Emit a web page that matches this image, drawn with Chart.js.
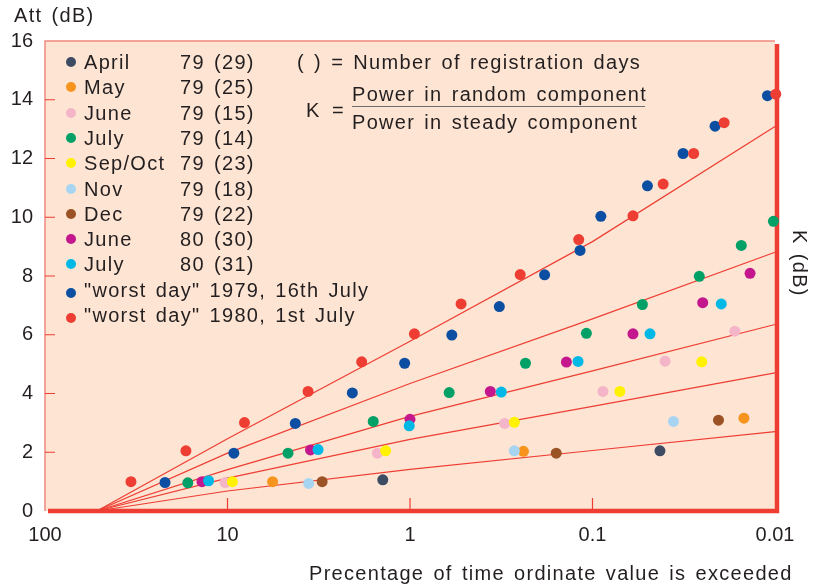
<!DOCTYPE html>
<html>
<head>
<meta charset="utf-8">
<script src="https://cdn.jsdelivr.net/npm/chart.js@4"></script>
<style>
  body { margin: 0; background: #fff; }
  #wrap { position: relative; width: 822px; height: 585px; }
  #wrap canvas { position: absolute; left: 0; top: 0; }
  .txt {
    position: absolute; white-space: nowrap;
    font-family: "Liberation Sans", Arial, Helvetica, sans-serif;
    font-size: 20px; letter-spacing: 1.3px; word-spacing: 2.3px; color: #231f20;
    line-height: 20px; height: 20px;
  }
  .dot { position: absolute; width: 10px; height: 10px; border-radius: 50%; }
</style>
</head>
<body>
<div id="wrap">
  <canvas id="chart" width="822" height="585"></canvas>
  <div class="txt" style="left:14px; top:5px;">Att (dB)</div>
  <div class="txt" style="left:297px; top:52px;">( ) = Number of registration days</div>
  <div class="txt" style="left:306px; top:100px;">K</div>
  <div class="txt" style="left:332px; top:100px;">=</div>
  <div class="txt" style="left:352px; top:84px;">Power in random component</div>
  <div style="position:absolute; left:352px; top:106px; width:293px; height:0; border-top:1.5px solid #6d6e71;"></div>
  <div class="txt" style="left:352px; top:112px;">Power in steady component</div>
  <div class="txt" style="left:770px; top:250px; width:60px; text-align:center; transform:rotate(90deg);">K (dB)</div>
  <div class="txt" style="left:309px; top:563px;">Precentage of time ordinate value is exceeded</div>
  <div id="legend"></div>
</div>
<script>
const xTickValues = [100, 10, 1, 0.1, 0.01];
const xTickLabels = ['100', '10', '1', '0.1', '0.01'];
const yTickValues = [0, 2, 4, 6, 8, 10, 12, 14, 16];

const seriesNames = ['April', 'May', 'June', 'July', 'Sep/Oct', 'Nov', 'Dec', 'June', 'July',
    '"worst day" 1979, 16th July', '"worst day" 1980, 1st July'];
const seriesYears = ['79', '79', '79', '79', '79', '79', '79', '80', '80', '', ''];
const seriesDays = ['(29)', '(25)', '(15)', '(14)', '(23)', '(18)', '(22)', '(30)', '(31)', '', ''];
const seriesColors = ['#3d4c63', '#f7941e', '#f5b5c9', '#00a066', '#fff200', '#a7d5f1',
    '#9b5325', '#c4168d', '#00b8e6', '#0b4ea2', '#ee3e33'];

// [percentage of time, attenuation dB]
const april79 = [[1.41, 1.06], [0.0427, 2.05]];
const may79 = [[5.66, 1.0], [0.239, 2.03], [0.0148, 3.16]];
const june79 = [[10.3, 0.97], [1.51, 1.97], [0.303, 2.98], [0.0877, 4.07], [0.040, 5.1], [0.0166, 6.12]];
const july79 = [[16.5, 0.96], [4.66, 1.97], [1.59, 3.05], [0.61, 4.03], [0.233, 5.03], [0.108, 6.05],
    [0.0533, 7.03], [0.026, 7.99], [0.0153, 9.04], [0.0102, 9.86]];
const sepOct79 = [[9.4, 1.0], [1.36, 2.05], [0.268, 3.02], [0.0708, 4.07], [0.0252, 5.08]];
const nov79 = [[3.59, 0.94], [0.268, 2.05], [0.036, 3.05]];
const dec79 = [[3.03, 1.0], [0.158, 1.97], [0.0204, 3.09]];
const june80 = [[13.8, 1.0], [3.51, 2.08], [1.0, 3.12], [0.363, 4.07], [0.139, 5.07], [0.060, 6.03],
    [0.0249, 7.09], [0.0137, 8.09]];
const july80 = [[12.7, 1.03], [3.19, 2.09], [1.01, 2.9], [0.316, 4.05], [0.12, 5.09], [0.0484, 6.03],
    [0.0197, 7.05]];
const worst1979 = [[22, 0.97], [9.23, 1.97], [4.25, 2.98], [2.07, 4.02], [1.07, 5.03], [0.59, 5.99],
    [0.324, 6.96], [0.183, 8.04], [0.117, 8.87], [0.090, 10.03], [0.050, 11.07], [0.0319, 12.17],
    [0.0213, 13.1], [0.011, 14.14]];
const worst1980 = [[33.8, 1.0], [16.9, 2.05], [8.07, 3.01], [3.62, 4.07], [1.84, 5.08], [0.946, 6.03],
    [0.525, 7.05], [0.249, 8.05], [0.119, 9.24], [0.060, 10.05], [0.041, 11.13], [0.0279, 12.17],
    [0.019, 13.22], [0.0099, 14.19]];

const seriesPoints = [april79, may79, june79, july79, sepOct79, nov79, dec79, june80, july80, worst1979, worst1980];

// fitted K lines, all starting from the same origin on the x axis
const fitX = [52, 10, 1, 0.1, 0.01];
const fitK1 = [0, 2.46, 5.78, 9.17, 13.09];
const fitK2 = [0, 1.97, 4.34, 6.54, 8.81];
const fitK3 = [0, 1.41, 3.22, 4.77, 6.35];
const fitK4 = [0, 1.12, 2.44, 3.56, 4.70];
const fitK5 = [0, 0.68, 1.42, 2.06, 2.70];
const fitLines = [fitK1, fitK2, fitK3, fitK4, fitK5];

const red = '#ee3e33';
const fontFamily = '"Liberation Sans", Arial, Helvetica, sans-serif';

// legend
const legend = document.getElementById('legend');
seriesNames.forEach((name, i) => {
    const cy = 62 + i * 25.3;
    const worst = seriesYears[i] === '';
    const dot = document.createElement('div');
    dot.className = 'dot';
    dot.style.left = '66px';
    dot.style.top = (cy - 5 + (worst ? 3 : 0)) + 'px';
    dot.style.background = seriesColors[i];
    legend.appendChild(dot);
    const parts = [[84, name]];
    if (!worst) {
        parts.push([180, seriesYears[i]]);
        parts.push([214, seriesDays[i]]);
    }
    parts.forEach(([x, t]) => {
        const d = document.createElement('div');
        d.className = 'txt';
        d.style.left = x + 'px';
        d.style.top = (cy - 10) + 'px';
        d.textContent = t;
        legend.appendChild(d);
    });
});

const framePlugin = {
    id: 'frame',
    beforeDatasetsDraw(chart) {
        const { ctx, chartArea: a, scales } = chart;
        ctx.save();
        ctx.fillStyle = '#fde4d3';
        ctx.fillRect(a.left, a.top, a.right - a.left, a.bottom - a.top);

        ctx.strokeStyle = '#f0897e';
        ctx.lineWidth = 1.5;
        ctx.beginPath();
        ctx.moveTo(a.left, a.bottom);
        ctx.lineTo(a.left, a.top);
        ctx.lineTo(a.right, a.top);
        ctx.stroke();

        // short tick marks inside the frame
        ctx.strokeStyle = red;
        ctx.lineWidth = 1.2;
        ctx.beginPath();
        yTickValues.slice(1, -1).forEach(v => {
            const y = scales.y.getPixelForValue(v);
            ctx.moveTo(a.left, y);
            ctx.lineTo(a.left + 10, y);
        });
        xTickValues.slice(1, -1).forEach(v => {
            const x = scales.x.getPixelForValue(v);
            ctx.moveTo(x, a.bottom);
            ctx.lineTo(x, a.bottom - 13);
        });
        ctx.stroke();

        ctx.strokeStyle = red;
        ctx.lineWidth = 4.5;
        ctx.beginPath();
        ctx.moveTo(a.left + 3, a.bottom);
        ctx.lineTo(a.right + 2, a.bottom);
        ctx.lineTo(a.right + 2, a.top + 3);
        ctx.stroke();
        ctx.restore();
    }
};

const datasets = [];
fitLines.forEach(k => {
    datasets.push({
        data: fitX.map((x, i) => ({ x: x, y: k[i] })),
        showLine: true,
        borderColor: red,
        borderWidth: 1.2,
        pointRadius: 0,
        clip: false,
        order: 100
    });
});
seriesPoints.forEach((pts, i) => {
    datasets.push({
        label: seriesNames[i],
        data: pts.map(p => ({ x: p[0], y: p[1] })),
        showLine: false,
        pointRadius: 5.5,
        pointBorderWidth: 0,
        backgroundColor: seriesColors[i],
        borderColor: seriesColors[i],
        clip: false,
        order: -i
    });
});

new Chart(document.getElementById('chart'), {
    type: 'scatter',
    data: { datasets },
    plugins: [framePlugin],
    options: {
        responsive: false,
        devicePixelRatio: 1,
        animation: false,
        events: [],
        layout: { padding: { top: 41, right: 47, left: 0, bottom: 0 } },
        plugins: {
            legend: { display: false },
            tooltip: { enabled: false }
        },
        scales: {
            x: {
                type: 'logarithmic',
                reverse: true,
                min: 0.01,
                max: 100,
                afterBuildTicks: s => { s.ticks = xTickValues.map(v => ({ value: v })); },
                afterFit: s => { s.height = 74; },
                grid: { display: false, drawTicks: false },
                border: { display: false },
                ticks: {
                    autoSkip: false,
                    maxRotation: 0,
                    padding: 12,
                    color: '#231f20',
                    font: { family: fontFamily, size: 20 },
                    callback: (v, i) => xTickLabels[i]
                }
            },
            y: {
                min: 0,
                max: 16,
                afterBuildTicks: s => { s.ticks = yTickValues.map(v => ({ value: v })); },
                afterFit: s => { s.width = 45; },
                grid: { display: false, drawTicks: false },
                border: { display: false },
                ticks: {
                    padding: 12,
                    color: '#231f20',
                    font: { family: fontFamily, size: 20 }
                }
            }
        }
    }
});
</script>
</body>
</html>
